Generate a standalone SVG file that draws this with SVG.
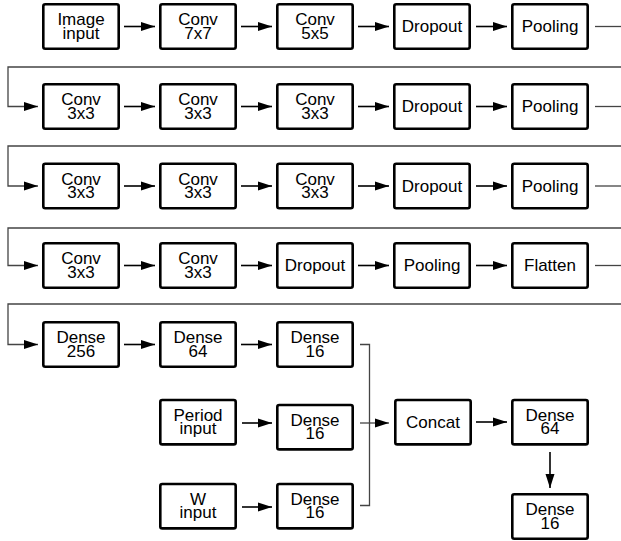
<svg xmlns="http://www.w3.org/2000/svg" width="621" height="541" viewBox="0 0 621 541">
<style>
.b rect{fill:#fff;stroke:#000;stroke-width:2.6}
.b text{font-family:"Liberation Sans",Arial,sans-serif;font-size:17px;text-anchor:middle;fill:#000}
.a{stroke:#000;stroke-width:1.6;fill:none;marker-end:url(#ah)}
.r{stroke:#444;stroke-width:1.3;fill:none}
.ra{stroke:#444;stroke-width:1.3;fill:none;marker-end:url(#ah)}
</style>
<defs>
<marker id="ah" markerUnits="userSpaceOnUse" markerWidth="14" markerHeight="10" refX="14" refY="5" orient="auto">
<path d="M0,0.5 L14,5 L0,9.5 z" fill="#000"/>
</marker>
</defs>
<rect width="621" height="541" fill="#fff"/>
<g id="connectors">
<line class="a" x1="124" y1="26.5" x2="155" y2="26.5"/>
<line class="a" x1="241" y1="26.5" x2="272" y2="26.5"/>
<line class="a" x1="358" y1="26.5" x2="389" y2="26.5"/>
<line class="a" x1="476" y1="26.5" x2="507" y2="26.5"/>
<line class="r" x1="595" y1="26.5" x2="621" y2="26.5"/>
<polyline class="ra" points="621,67 8,67 8,106.5 38,106.5"/>
<line class="a" x1="124" y1="106.5" x2="155" y2="106.5"/>
<line class="a" x1="241" y1="106.5" x2="272" y2="106.5"/>
<line class="a" x1="358" y1="106.5" x2="389" y2="106.5"/>
<line class="a" x1="476" y1="106.5" x2="507" y2="106.5"/>
<line class="r" x1="595" y1="106.5" x2="621" y2="106.5"/>
<polyline class="ra" points="621,146 8,146 8,186 38,186"/>
<line class="a" x1="124" y1="186" x2="155" y2="186"/>
<line class="a" x1="241" y1="186" x2="272" y2="186"/>
<line class="a" x1="358" y1="186" x2="389" y2="186"/>
<line class="a" x1="476" y1="186" x2="507" y2="186"/>
<line class="r" x1="595" y1="186" x2="621" y2="186"/>
<polyline class="ra" points="621,228 8,228 8,265.5 38,265.5"/>
<line class="a" x1="124" y1="265.5" x2="155" y2="265.5"/>
<line class="a" x1="241" y1="265.5" x2="272" y2="265.5"/>
<line class="a" x1="358" y1="265.5" x2="389" y2="265.5"/>
<line class="a" x1="476" y1="265.5" x2="507" y2="265.5"/>
<line class="r" x1="595" y1="265.5" x2="621" y2="265.5"/>
<polyline class="ra" points="621,304 8,304 8,344.5 38,344.5"/>
<line class="a" x1="124" y1="344.5" x2="155" y2="344.5"/>
<line class="a" x1="241" y1="344.5" x2="272" y2="344.5"/>
<polyline class="r" points="360,344.5 369.5,344.5 369.5,505.5 360,505.5"/>
<line class="ra" x1="360" y1="423" x2="389" y2="423"/>
<line class="a" x1="242" y1="423" x2="272" y2="423"/>
<line class="a" x1="242" y1="507" x2="272" y2="507"/>
<line class="a" x1="476" y1="422" x2="507" y2="422"/>
<line class="a" x1="550" y1="452" x2="550" y2="488"/>
</g>
<g id="image_input" class="b"><rect x="43.3" y="4.3" width="75.4" height="44.4" rx="2"/><text x="81" y="25">Image<tspan x="81" dy="13.5">input</tspan></text></g>
<g id="conv7" class="b"><rect x="160.3" y="4.3" width="75.4" height="44.4" rx="2"/><text x="198" y="25">Conv<tspan x="198" dy="13.5">7x7</tspan></text></g>
<g id="conv5" class="b"><rect x="277.3" y="4.3" width="75.4" height="44.4" rx="2"/><text x="315" y="25">Conv<tspan x="315" dy="13.5">5x5</tspan></text></g>
<g id="dropout1" class="b"><rect x="394.3" y="4.3" width="75.4" height="44.4" rx="2"/><text x="432" y="32">Dropout</text></g>
<g id="pooling1" class="b"><rect x="512.3" y="4.3" width="75.4" height="44.4" rx="2"/><text x="550" y="32">Pooling</text></g>
<g id="conv3_2a" class="b"><rect x="43.3" y="84.3" width="75.4" height="44.4" rx="2"/><text x="81" y="105">Conv<tspan x="81" dy="13.5">3x3</tspan></text></g>
<g id="conv3_2b" class="b"><rect x="160.3" y="84.3" width="75.4" height="44.4" rx="2"/><text x="198" y="105">Conv<tspan x="198" dy="13.5">3x3</tspan></text></g>
<g id="conv3_2c" class="b"><rect x="277.3" y="84.3" width="75.4" height="44.4" rx="2"/><text x="315" y="105">Conv<tspan x="315" dy="13.5">3x3</tspan></text></g>
<g id="dropout2" class="b"><rect x="394.3" y="84.3" width="75.4" height="44.4" rx="2"/><text x="432" y="112">Dropout</text></g>
<g id="pooling2" class="b"><rect x="512.3" y="84.3" width="75.4" height="44.4" rx="2"/><text x="550" y="112">Pooling</text></g>
<g id="conv3_3a" class="b"><rect x="43.3" y="163.8" width="75.4" height="44.4" rx="2"/><text x="81" y="184.5">Conv<tspan x="81" dy="13.5">3x3</tspan></text></g>
<g id="conv3_3b" class="b"><rect x="160.3" y="163.8" width="75.4" height="44.4" rx="2"/><text x="198" y="184.5">Conv<tspan x="198" dy="13.5">3x3</tspan></text></g>
<g id="conv3_3c" class="b"><rect x="277.3" y="163.8" width="75.4" height="44.4" rx="2"/><text x="315" y="184.5">Conv<tspan x="315" dy="13.5">3x3</tspan></text></g>
<g id="dropout3" class="b"><rect x="394.3" y="163.8" width="75.4" height="44.4" rx="2"/><text x="432" y="191.5">Dropout</text></g>
<g id="pooling3" class="b"><rect x="512.3" y="163.8" width="75.4" height="44.4" rx="2"/><text x="550" y="191.5">Pooling</text></g>
<g id="conv3_4a" class="b"><rect x="43.3" y="243.3" width="75.4" height="44.4" rx="2"/><text x="81" y="264">Conv<tspan x="81" dy="13.5">3x3</tspan></text></g>
<g id="conv3_4b" class="b"><rect x="160.3" y="243.3" width="75.4" height="44.4" rx="2"/><text x="198" y="264">Conv<tspan x="198" dy="13.5">3x3</tspan></text></g>
<g id="dropout4" class="b"><rect x="277.3" y="243.3" width="75.4" height="44.4" rx="2"/><text x="315" y="271">Dropout</text></g>
<g id="pooling4" class="b"><rect x="394.3" y="243.3" width="75.4" height="44.4" rx="2"/><text x="432" y="271">Pooling</text></g>
<g id="flatten" class="b"><rect x="512.3" y="243.3" width="75.4" height="44.4" rx="2"/><text x="550" y="271">Flatten</text></g>
<g id="dense256" class="b"><rect x="43.3" y="322.3" width="75.4" height="44.4" rx="2"/><text x="81" y="343">Dense<tspan x="81" dy="13.5">256</tspan></text></g>
<g id="dense64a" class="b"><rect x="160.3" y="322.3" width="75.4" height="44.4" rx="2"/><text x="198" y="343">Dense<tspan x="198" dy="13.5">64</tspan></text></g>
<g id="dense16a" class="b"><rect x="277.3" y="322.3" width="75.4" height="44.4" rx="2"/><text x="315" y="343">Dense<tspan x="315" dy="13.5">16</tspan></text></g>
<g id="period_input" class="b"><rect x="160.3" y="400" width="75.4" height="44.4" rx="2"/><text x="198" y="420.7">Period<tspan x="198" dy="13.5">input</tspan></text></g>
<g id="dense16b" class="b"><rect x="277.3" y="405" width="75.4" height="44.4" rx="2"/><text x="315" y="425.7">Dense<tspan x="315" dy="13.5">16</tspan></text></g>
<g id="concat" class="b"><rect x="395.3" y="400" width="75.4" height="44.4" rx="2"/><text x="433" y="428">Concat</text></g>
<g id="dense64b" class="b"><rect x="512.3" y="400" width="75.4" height="44.4" rx="2"/><text x="550" y="420.7">Dense<tspan x="550" dy="13.5">64</tspan></text></g>
<g id="w_input" class="b"><rect x="160.3" y="484" width="75.4" height="44.4" rx="2"/><text x="198" y="504.7">W<tspan x="198" dy="13.5">input</tspan></text></g>
<g id="dense16c" class="b"><rect x="277.3" y="484" width="75.4" height="44.4" rx="2"/><text x="315" y="504.7">Dense<tspan x="315" dy="13.5">16</tspan></text></g>
<g id="dense16d" class="b"><rect x="512.3" y="494.3" width="75.4" height="44.4" rx="2"/><text x="550" y="515">Dense<tspan x="550" dy="13.5">16</tspan></text></g>
</svg>
